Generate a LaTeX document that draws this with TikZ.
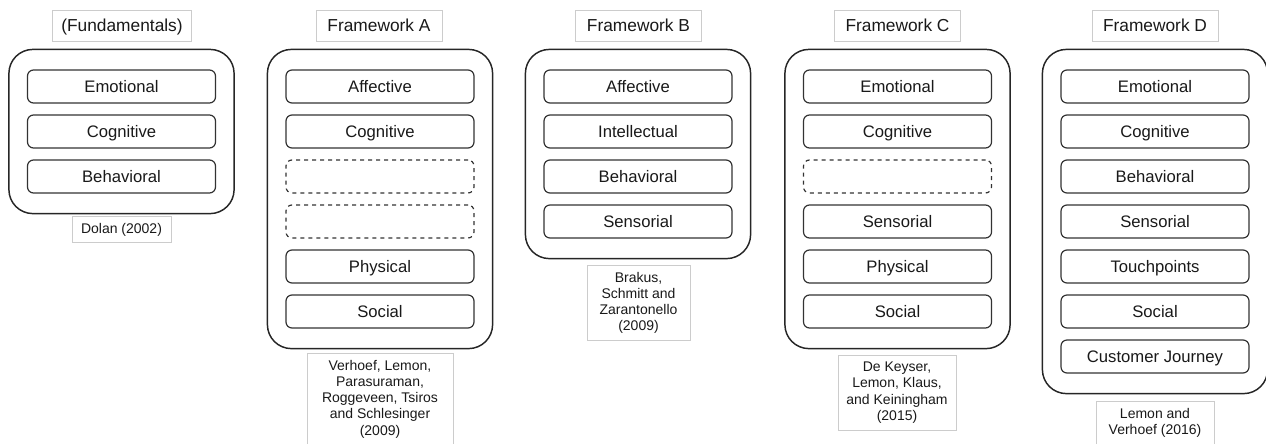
\documentclass[tikz,border=0pt]{standalone}
\usepackage{fontspec}
\setmainfont{Liberation Sans}
\usepackage{tikz}
\usetikzlibrary{fit, positioning}

\tikzset{
    outerbox/.style={draw=black!85, line width=1.1pt, rounded corners=18pt, inner xsep=13.5pt, inner ysep=15pt},
    itembox/.style={draw=black!80, line width=0.9pt, rounded corners=4.5pt, minimum width=141pt, minimum height=24.75pt, text height=10.2pt, text depth=0.8pt, font=\fontsize{12.5}{15}\selectfont, text=black!90},
    gapbox/.style={itembox, dashed},
    titlebox/.style={draw=black!20, line width=0.5pt, minimum width=94.5pt, minimum height=23.25pt, inner xsep=6.5pt, text height=10.3pt, text depth=1pt, font=\fontsize{13}{15}\selectfont, text=black!90},
    citebox/.style={draw=black!20, line width=0.5pt, align=center, inner xsep=5pt, inner ysep=5pt, anchor=north, font=\fontsize{10.5}{12.2}\selectfont, text=black!90}
}

\begin{document}
\begin{tikzpicture}[x=0.75pt, y=-0.75pt]

    \useasboundingbox (0,0) rectangle (1266,443);

    % =================================================================
    % 1. (FUNDAMENTALS) - Dolan (2002)
    % =================================================================
    \node[titlebox] (fundT) at (122,25.5) {(Fundamentals)};
    \node[itembox] (fund1) at (121.5,86.5) {Emotional};
    \node[itembox] (fund2) at (121.5,131.5) {Cognitive};
    \node[itembox] (fund3) at (121.5,176.5) {Behavioral};
    \node[outerbox, fit=(fund1)(fund3)] (fund) {};
    \node[citebox, minimum width=74pt] (fundC) at (121.5,216) {Dolan (2002)};

    % =================================================================
    % 2. FRAMEWORK A
    % =================================================================
    \node[titlebox] (fwaT) at (379,25.5) {Framework A};
    \node[itembox] (fwa1) at (380,86.5) {Affective};
    \node[itembox] (fwa2) at (380,131.5) {Cognitive};
    \node[gapbox] (fwa3) at (380,176.5) {};
    \node[gapbox] (fwa4) at (380,221.5) {};
    \node[itembox] (fwa5) at (380,266.5) {Physical};
    \node[itembox] (fwa6) at (380,311.5) {Social};
    \node[outerbox, fit=(fwa1)(fwa6)] (fwa) {};
    \node[citebox, minimum width=109.5pt] (fwaC) at (380,353)
        {Verhoef, Lemon,\\Parasuraman,\\Roggeveen, Tsiros\\and Schlesinger\\(2009)};

    % =================================================================
    % 3. FRAMEWORK B
    % =================================================================
    \node[titlebox] (fwbT) at (638.5,25.5) {Framework B};
    \node[itembox] (fwb1) at (638,86.5) {Affective};
    \node[itembox] (fwb2) at (638,131.5) {Intellectual};
    \node[itembox] (fwb3) at (638,176.5) {Behavioral};
    \node[itembox] (fwb4) at (638,221.5) {Sensorial};
    \node[outerbox, fit=(fwb1)(fwb4)] (fwb) {};
    \node[citebox, minimum width=77pt] (fwbC) at (638.5,265)
        {Brakus,\\Schmitt and\\Zarantonello\\(2009)};

    % =================================================================
    % 4. FRAMEWORK C
    % =================================================================
    \node[titlebox] (fwcT) at (897.5,25.5) {Framework C};
    \node[itembox] (fwc1) at (897.5,86.5) {Emotional};
    \node[itembox] (fwc2) at (897.5,131.5) {Cognitive};
    \node[gapbox] (fwc3) at (897.5,176.5) {};
    \node[itembox] (fwc4) at (897.5,221.5) {Sensorial};
    \node[itembox] (fwc5) at (897.5,266.5) {Physical};
    \node[itembox] (fwc6) at (897.5,311.5) {Social};
    \node[outerbox, fit=(fwc1)(fwc6)] (fwc) {};
    \node[citebox, minimum width=88.5pt] (fwcC) at (897,355)
        {De Keyser,\\Lemon, Klaus,\\and Keiningham\\(2015)};

    % =================================================================
    % 5. FRAMEWORK D
    % =================================================================
    \node[titlebox] (fwdT) at (1155,25.5) {Framework D};
    \node[itembox] (fwd1) at (1155,86.5) {Emotional};
    \node[itembox] (fwd2) at (1155,131.5) {Cognitive};
    \node[itembox] (fwd3) at (1155,176.5) {Behavioral};
    \node[itembox] (fwd4) at (1155,221.5) {Sensorial};
    \node[itembox] (fwd5) at (1155,266.5) {Touchpoints};
    \node[itembox] (fwd6) at (1155,311.5) {Social};
    \node[itembox] (fwd7) at (1155,356.5) {Customer Journey};
    \node[outerbox, fit=(fwd1)(fwd7)] (fwd) {};
    \node[citebox, minimum width=88.5pt] (fwdC) at (1155,401)
        {Lemon and\\Verhoef (2016)};

\end{tikzpicture}
\end{document}
